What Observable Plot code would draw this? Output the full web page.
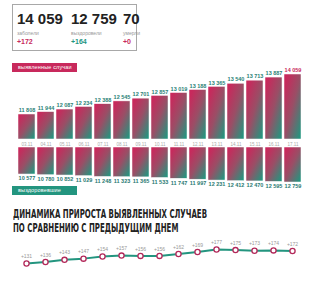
<!DOCTYPE html>
<html><head><meta charset="utf-8">
<script src="https://cdn.jsdelivr.net/npm/d3@7"></script>
<script src="https://cdn.jsdelivr.net/npm/@observablehq/plot@0.6"></script>
<style>
body{margin:0;background:#fff;width:315px;height:285px;overflow:hidden;position:relative;font-family:"Liberation Sans",Arial,sans-serif}
.abs{position:absolute}
.big{font-weight:bold;font-size:15px;color:#222;top:10px;white-space:nowrap}
.lbl{font-size:5px;color:#999;top:30px;white-space:nowrap}
.inc{font-size:7px;font-weight:bold;top:38px;white-space:nowrap}
.tag{font-size:5.5px;color:#fff;height:9px;line-height:9px;padding-left:6px;width:59px;letter-spacing:0.15px}
#title{left:13px;top:207px;font-family:"DejaVu Sans Condensed","DejaVu Sans",sans-serif;font-weight:bold;font-size:12.5px;line-height:14px;color:#222;transform-origin:0 0;white-space:nowrap}
</style></head><body>
<div class="abs" style="left:12px;top:4px;width:125px;height:47px;box-shadow:inset 0 0 0 1px #a8a8a8"></div>
<div class="abs big" style="left:17px">14 059</div>
<div class="abs big" style="left:71px">12 759</div>
<div class="abs big" style="left:123px">70</div>
<div class="abs lbl" style="left:17px">заболели</div>
<div class="abs lbl" style="left:71px">выздоровели</div>
<div class="abs lbl" style="left:123px">умерли</div>
<div class="abs inc" style="left:17px;color:#c8295c">+172</div>
<div class="abs inc" style="left:71px;color:#23957f">+164</div>
<div class="abs inc" style="left:123px;color:#c8295c">+0</div>
<div class="abs tag" style="left:12px;top:63px;background:#c8295c">выявленные случаи</div>
<div class="abs tag" style="left:12px;top:186px;background:#23957f">выздоровевшие</div>
<div id="title" class="abs">ДИНАМИКА ПРИРОСТА ВЫЯВЛЕННЫХ СЛУЧАЕВ<br>ПО СРАВНЕНИЮ С ПРЕДЫДУЩИМ ДНЕМ</div>
<div id="top" class="abs" style="left:0;top:60px"></div>
<div id="bot" class="abs" style="left:0;top:145px"></div>
<div id="line" class="abs" style="left:0;top:238px"></div>
<script>
const dates = ["03.11","04.11","05.11","06.11","07.11","08.11","09.11","10.11","11.11","12.11","13.11","14.11","15.11","16.11","17.11"];
const identified = [11808,11944,12087,12234,12388,12545,12701,12857,13019,13188,13365,13540,13713,13887,14059];
const recovered = [10577,10780,10852,11029,11248,11323,11365,11533,11747,11997,12231,12412,12470,12595,12759];
const increments = [131,136,143,147,154,157,156,156,162,169,177,175,173,174,172];

const fmt = v => d3.format(",")(v).replace(/,/g, " ");
const CRIM = "#c8295c", TEAL = "#23957f";
const xOpt = {type:"band", domain: dates, paddingInner:0.12, paddingOuter:0, axis:null};

function addGrad(svg, id){
  const ns = "http://www.w3.org/2000/svg";
  const defs = document.createElementNS(ns,"defs");
  defs.innerHTML = `<linearGradient id="${id}" x1="0" y1="0" x2="1" y2="1"><stop offset="0.1" stop-color="${CRIM}"/><stop offset="0.5" stop-color="#9a4e66"/><stop offset="0.95" stop-color="${TEAL}"/></linearGradient>`;
  svg.insertBefore(defs, svg.firstChild);
}

const topData = dates.map((d,i)=>({d, v: identified[i], last: i===dates.length-1}));
const topBase = 10400;
const topPlot = Plot.plot({
  width:315, height:90, marginLeft:15, marginRight:12, marginTop:0, marginBottom:0,
  x: xOpt,
  y: {domain:[topBase, 14059], range:[79,14], axis:null},
  style:{background:"transparent", fontFamily:"Liberation Sans, Arial, sans-serif"},
  marks:[
    Plot.barY(topData, {x:"d", y1: topBase, y2:"v", fill:"url(#g1)", stroke:"#fff", strokeWidth:0.5}),
    Plot.text(topData, {x:"d", y:"v", text: d=>fmt(d.v), dy:-4, fontSize:5.5, fontWeight:"bold", fill: d=> d.last ? CRIM : "#2a8276"}),
    Plot.text(topData, {x:"d", y: topBase, text:"d", dy:5, fontSize:4.5, fill:"#aaa"})
  ]
});
addGrad(topPlot, "g1");
document.getElementById("top").appendChild(topPlot);

const botData = dates.map((d,i)=>({d, v: recovered[i]}));
const botBase = 3200;
const botPlot = Plot.plot({
  width:315, height:45, marginLeft:15, marginRight:12, marginTop:0, marginBottom:0,
  x: xOpt,
  y: {domain:[botBase, 12759], range:[2,37], axis:null},
  style:{background:"transparent", fontFamily:"Liberation Sans, Arial, sans-serif"},
  marks:[
    Plot.barY(botData, {x:"d", y1: botBase, y2:"v", fill:"url(#g2)", stroke:"#fff", strokeWidth:0.5}),
    Plot.text(botData, {x:"d", y:"v", text: d=>fmt(d.v), dy:4, fontSize:5.5, fontWeight:"bold", fill:"#2a7a72"})
  ]
});
addGrad(botPlot, "g2");
document.getElementById("bot").appendChild(botPlot);

const lineData = dates.map((d,i)=>({d, v: increments[i]}));
const linePlot = Plot.plot({
  width:315, height:40, marginLeft:15, marginRight:12, marginTop:0, marginBottom:0,
  x: {type:"point", domain: dates, padding: 0.44, axis:null},
  y: {domain:[131,177], range:[25,11], axis:null},
  style:{background:"transparent", fontFamily:"Liberation Sans, Arial, sans-serif"},
  marks:[
    Plot.line(lineData, {x:"d", y:"v", stroke:TEAL, strokeWidth:2}),
    Plot.dot(lineData, {x:"d", y:"v", r:2.6, fill:"#fff", stroke:"#b3285a", strokeWidth:1.3}),
    Plot.text(lineData, {x:"d", y:"v", text: d=>"+"+d.v, dy:-7, fontSize:5, fill:"#999"})
  ]
});
document.getElementById("line").appendChild(linePlot);

const t = document.getElementById("title");
const w = t.getBoundingClientRect().width;
t.style.transform = `scaleX(${194/w})`;
</script>
</body></html>
